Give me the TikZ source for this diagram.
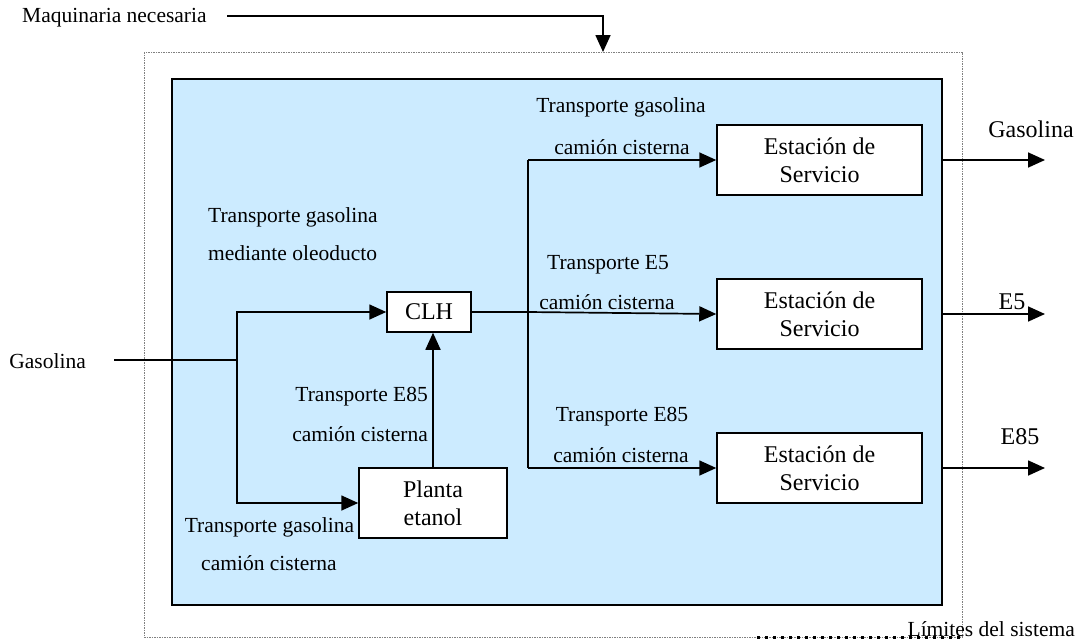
\documentclass[tikz,border=0pt]{standalone}
\usepackage{fontspec}
\setmainfont{Liberation Serif}
\usetikzlibrary{arrows.meta}
\definecolor{sysblue}{HTML}{CCEBFF}
\begin{document}
\begin{tikzpicture}[x=1pt,y=-1pt,
  lbl/.style={font=\fontsize{21.5}{25}\selectfont, inner sep=0pt},
  outlbl/.style={font=\fontsize{24}{28}\selectfont, inner sep=0pt},
  box/.style={draw, line width=1.5pt, fill=white, font=\fontsize{24}{28}\selectfont, align=center, inner sep=0pt},
  wire/.style={line width=1.7pt},
  flow/.style={wire, -{Triangle[length=17pt,width=15pt]}},
  boundary/.style={gray, line width=0.6pt, dash pattern=on 1.5pt off 1pt}]
\useasboundingbox (0,0) rectangle (1082,643);
\fill[white] (0,0) rectangle (1082,643);
% system boundary
\draw[boundary] (144,52) rectangle (962,637);
\draw[black, line width=3pt, dash pattern=on 3pt off 5pt] (757,637) -- (962,637);
\node[lbl, anchor=east] (lim) at (1075,629) {Límites del sistema};
% system box
\fill[gray!80] (173,80) rectangle (943,606);
\node[draw, line width=1.5pt, fill=sysblue, anchor=north west, minimum width=770pt, minimum height=526pt, inner sep=0pt] (sys) at (171,78) {};
% machinery input
\node[lbl, anchor=west] (maq) at (22,18) {Maquinaria necesaria};
\coordinate (m1) at (227,16);
\coordinate (m2) at (603,52);
\draw[flow] (m1) -| (m2);
% boxes
\node[box, minimum width=84pt, minimum height=40pt] (clh) at (429,312) {CLH};
\node[box, minimum width=148pt, minimum height=70pt] (planta) at (433,503) {Planta\\etanol};
\node[box, minimum width=205pt, minimum height=70pt] (es1) at (819.5,160) {Estación de\\Servicio};
\node[box, minimum width=205pt, minimum height=70pt] (es2) at (819.5,314) {Estación de\\Servicio};
\node[box, minimum width=205pt, minimum height=70pt] (es3) at (819.5,468) {Estación de\\Servicio};
% gasoline input
\node[lbl, anchor=east] (gin) at (86,361) {Gasolina};
\coordinate (ginend) at (114,360);
\coordinate (jin) at (237,360);
\draw[wire] (ginend) -- (jin);
\draw[flow] (jin) |- (clh.west);
\draw[flow] (jin) |- (planta.west);
\draw[flow] (planta.north) -- (planta.north |- clh.south);
% distribution
\coordinate (dist) at (528,312);
\draw[wire] (clh.east) -- (dist);
\draw[wire] (dist |- es1.west) -- (dist |- es3.west);
\draw[flow] (dist |- es1.west) -- (es1.west);
\draw[flow] (dist) -- (es2.west);
\draw[flow] (dist |- es3.west) -- (es3.west);
% outputs
\coordinate (o1) at (1045,160);
\coordinate (o2) at (1045,314);
\coordinate (o3) at (1045,468);
\draw[flow] (sys.east |- o1) -- (o1);
\draw[flow] (sys.east |- o2) -- (o2);
\draw[flow] (sys.east |- o3) -- (o3);
\node[outlbl] (og) at (1031,129) {Gasolina};
\node[outlbl] (oe5) at (1012,302) {E5};
\node[outlbl] (oe85) at (1020,437) {E85};
% labels
\node[lbl, anchor=west] (lta) at (208,217) {Transporte gasolina};
\node[lbl, anchor=west] (ltb) at (208,253) {mediante oleoducto};
\node[lbl, anchor=east] (lma) at (428,397) {Transporte E85};
\node[lbl, anchor=east] (lmb) at (428,434) {camión cisterna};
\node[lbl] (lba) at (269.5,527) {Transporte gasolina};
\node[lbl] (lbb) at (269,563) {camión cisterna};
\node[lbl] (r1a) at (621,107) {Transporte gasolina};
\node[lbl] (r1b) at (622,147) {camión cisterna};
\node[lbl] (r2a) at (608,265) {Transporte E5};
\node[lbl] (r2b) at (607,302) {camión cisterna};
\node[lbl] (r3a) at (622,417) {Transporte E85};
\node[lbl] (r3b) at (621,455) {camión cisterna};
\end{tikzpicture}
\end{document}
